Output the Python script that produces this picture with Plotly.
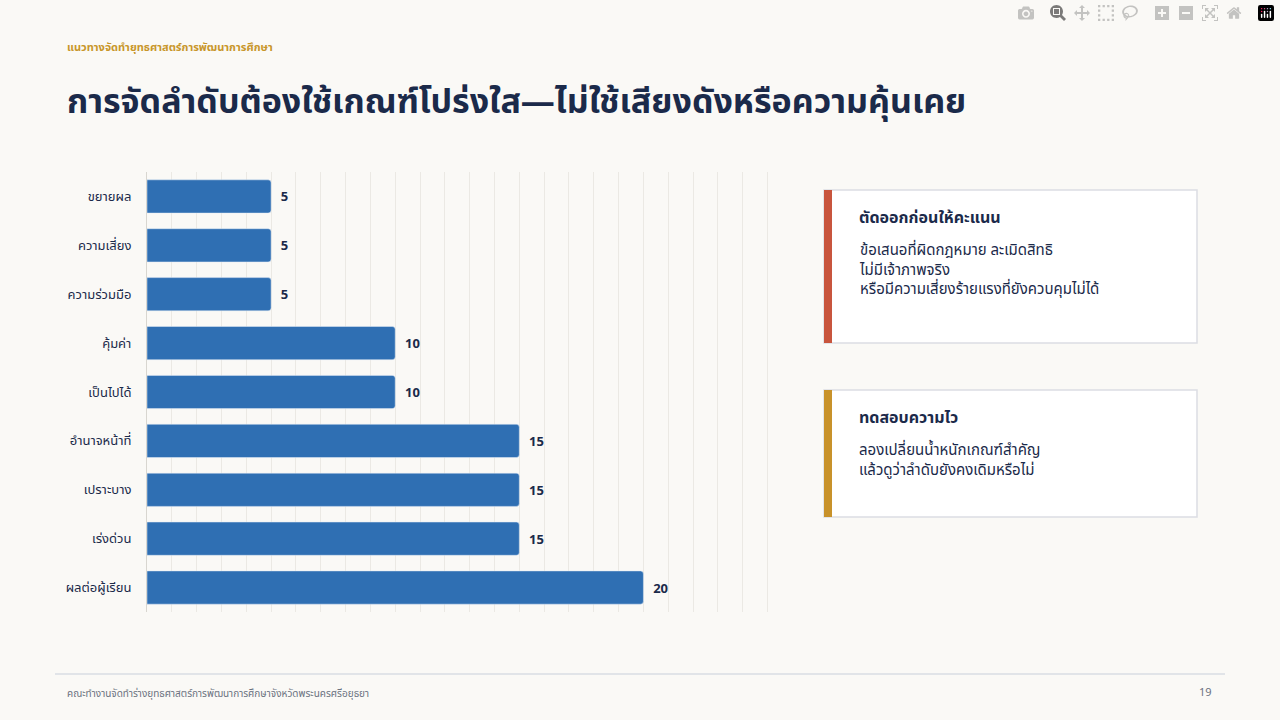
import plotly.graph_objects as go

criteria = ["ขยายผล", "ความเสี่ยง", "ความร่วมมือ", "คุ้มค่า", "เป็นไปได้",
            "อำนาจหน้าที่", "เปราะบาง", "เร่งด่วน", "ผลต่อผู้เรียน"]
weights = [5, 5, 5, 10, 10, 15, 15, 15, 20]

FONT = "Noto Sans, Noto Sans Thai, sans-serif"
NAVY = "#1b2a4a"

fig = go.Figure()
fig.add_trace(go.Bar(
    x=weights, y=criteria, orientation="h",
    marker=dict(color="#2f6fb3", cornerradius=3), width=0.68,
    text=["  " + str(w) for w in weights], textposition="outside",
    textfont=dict(size=13, color=NAVY, family=FONT, weight="bold"),
    cliponaxis=False,
))

fig.update_layout(
    width=1280, height=720,
    paper_bgcolor="#faf9f6", plot_bgcolor="#faf9f6",
    margin=dict(l=0, r=0, t=0, b=0),
    showlegend=False,
    font=dict(family=FONT, color=NAVY),
    xaxis=dict(domain=[147 / 1280, 770 / 1280], range=[0, 25.1], dtick=1,
               showticklabels=False, showgrid=True, gridcolor="#ebe9e4",
               zeroline=False, showline=False),
    yaxis=dict(domain=[1 - 612 / 720, 1 - 172 / 720], autorange="reversed",
               categoryorder="array", categoryarray=criteria,
               tickfont=dict(size=13, color=NAVY), ticks="", ticklabelstandoff=12,
               showline=True, linecolor="#d8d6d0"),
)

# annotations given in pixel coordinates, converted below
texts = [
    (65, 47, "แนวทางจัดทำยุทธศาสตร์การพัฒนาการศึกษา", dict(size=11, color="#c8962a", weight="bold"), "middle"),
    (65, 100, "การจัดลำดับต้องใช้เกณฑ์โปร่งใส—ไม่ใช้เสียงดังหรือความคุ้นเคย", dict(size=34, color=NAVY, weight="bold"), "middle"),
    (65, 693, "คณะทำงานจัดทำร่างยุทธศาสตร์การพัฒนาการศึกษาจังหวัดพระนครศรีอยุธยา", dict(size=10, color="#6b7280"), "middle"),
]

cards = [
    (190, 343, "#c8553d", "ตัดออกก่อนให้คะแนน",
     "ข้อเสนอที่ผิดกฎหมาย ละเมิดสิทธิ<br>ไม่มีเจ้าภาพจริง<br>หรือมีความเสี่ยงร้ายแรงที่ยังควบคุมไม่ได้"),
    (390, 517, "#c8922a", "ทดสอบความไว",
     "ลองเปลี่ยนน้ำหนักเกณฑ์สำคัญ<br>แล้วดูว่าลำดับยังคงเดิมหรือไม่"),
]
for top, bottom, accent, head, body in cards:
    fig.add_shape(type="rect", xref="paper", yref="paper",
                  x0=824 / 1280, x1=1197 / 1280, y0=1 - bottom / 720, y1=1 - top / 720,
                  fillcolor="white", line=dict(color="#dcdde3", width=1.5))
    fig.add_shape(type="rect", xref="paper", yref="paper",
                  x0=824 / 1280, x1=832 / 1280, y0=1 - bottom / 720, y1=1 - top / 720,
                  fillcolor=accent, line=dict(width=0))
    texts.append((857, top + 27, head, dict(size=16, color=NAVY, weight="bold"), "middle"))
    texts.append((857, top + 47, body, dict(size=15, color=NAVY), "top"))

for x, y, t, f, ya in texts:
    fig.add_annotation(x=x / 1280, y=1 - y / 720, xref="paper", yref="paper", text=t,
                       showarrow=False, xanchor="left", yanchor=ya, align="left", font=f)
fig.add_annotation(x=1214 / 1280, y=1 - 691 / 720, xref="paper", yref="paper", text="19",
                   showarrow=False, xanchor="right", yanchor="middle",
                   font=dict(size=11, color="#6b7280"))

fig.add_shape(type="line", xref="paper", yref="paper", x0=55 / 1280, x1=1225 / 1280,
              y0=1 - 674 / 720, y1=1 - 674 / 720, line=dict(color="#d9dde3", width=1.5))

fig.write_html("out.html", post_script="document.body.style.margin='0';document.body.style.overflow='hidden';")
